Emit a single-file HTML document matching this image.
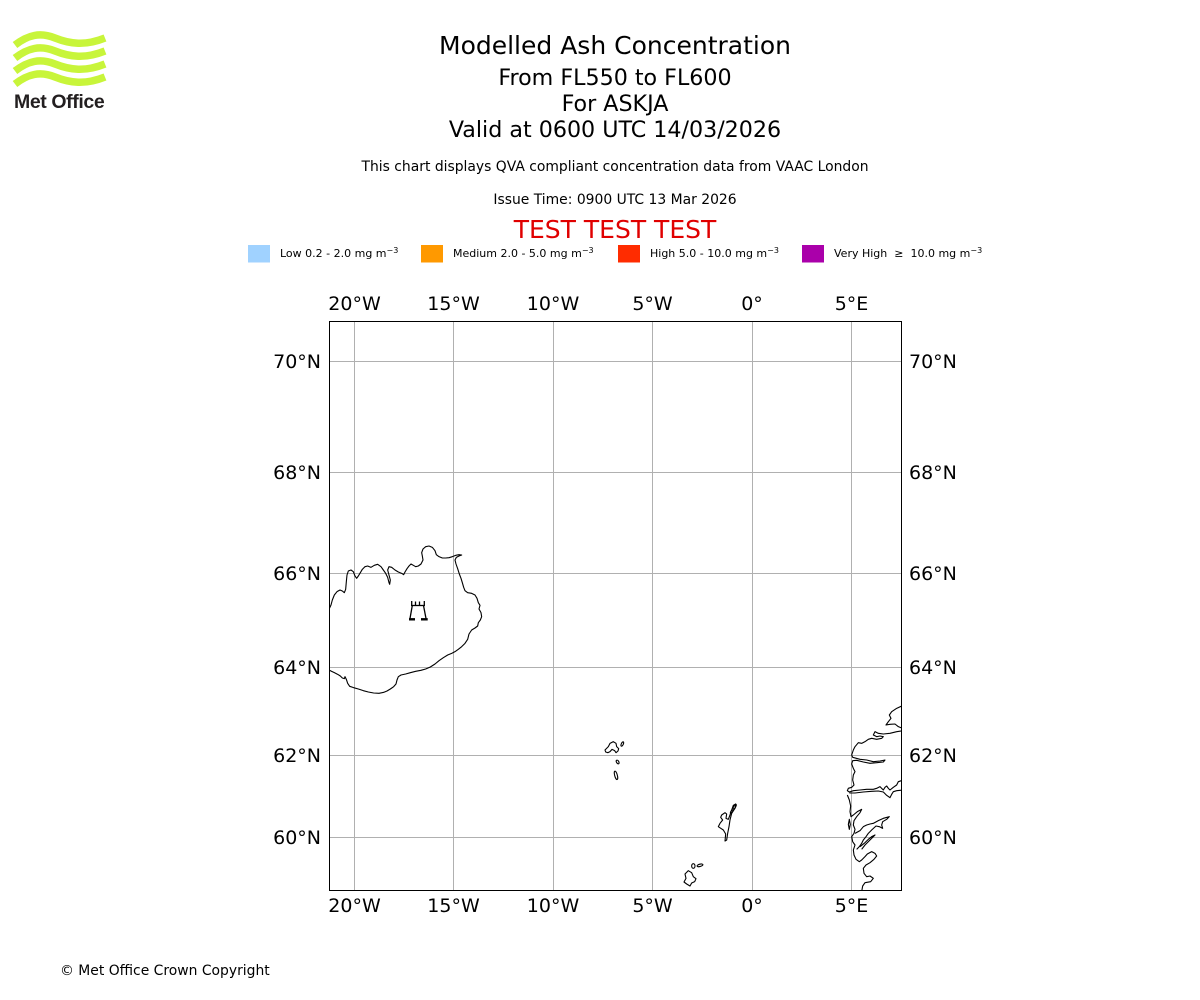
<!DOCTYPE html>
<html>
<head>
<meta charset="utf-8">
<style>
html,body{margin:0;padding:0;background:#fff;}
svg{display:block;}
text{font-family:"DejaVu Sans","Liberation Sans",sans-serif;fill:#000;}
</style>
</head>
<body>
<svg width="1200" height="1000" viewBox="0 0 1200 1000" xmlns="http://www.w3.org/2000/svg">
<rect x="0" y="0" width="1200" height="1000" fill="#fff"/>

<!-- Met Office logo -->
<g fill="none" stroke="#c8f53a" stroke-width="7.5" stroke-linecap="butt">
  <path d="M15,45 C28,35 40,32 55,38 S85,46 105,38"/>
  <path d="M15,58 C28,48 40,45 55,51 S85,59 105,51"/>
  <path d="M15,71 C28,61 40,58 55,64 S85,72 105,64"/>
  <path d="M15,84 C28,74 40,71 55,77 S85,85 105,77"/>
</g>
<text x="14" y="108" style="font-family:'Liberation Sans',sans-serif;font-weight:bold;font-size:19.5px;fill:#231f20;letter-spacing:-0.4px">Met Office</text>

<!-- Titles -->
<text x="615" y="54" text-anchor="middle" font-size="25">Modelled Ash Concentration</text>
<text x="615" y="85" text-anchor="middle" font-size="22.2">From FL550 to FL600</text>
<text x="615" y="111" text-anchor="middle" font-size="22.2">For ASKJA</text>
<text x="615" y="137" text-anchor="middle" font-size="22.2">Valid at 0600 UTC 14/03/2026</text>
<text x="615" y="171" text-anchor="middle" font-size="13.9">This chart displays QVA compliant concentration data from VAAC London</text>
<text x="615" y="204" text-anchor="middle" font-size="13.9">Issue Time: 0900 UTC 13 Mar 2026</text>
<text x="615" y="238" text-anchor="middle" font-size="25" style="fill:#e00000">TEST TEST TEST</text>

<!-- Legend -->
<rect x="248" y="245" width="22" height="17.5" fill="#a0d2ff"/>
<text x="280" y="257" font-size="11">Low 0.2 - 2.0 mg m<tspan font-size="8" dy="-4">−3</tspan></text>
<rect x="421" y="245" width="22" height="17.5" fill="#ff9900"/>
<text x="453" y="257" font-size="11">Medium 2.0 - 5.0 mg m<tspan font-size="8" dy="-4">−3</tspan></text>
<rect x="618" y="245" width="22" height="17.5" fill="#ff2c00"/>
<text x="650" y="257" font-size="11">High 5.0 - 10.0 mg m<tspan font-size="8" dy="-4">−3</tspan></text>
<rect x="802" y="245" width="22" height="17.5" fill="#aa00aa"/>
<text x="834" y="257" font-size="11">Very High&#160; ≥&#160; 10.0 mg m<tspan font-size="8" dy="-4">−3</tspan></text>

<defs>
  <clipPath id="mapclip"><rect x="329.5" y="321.5" width="572" height="569"/></clipPath>
</defs>

<!-- Gridlines -->
<g stroke="#b0b0b0" stroke-width="1">
  <line x1="354.5" y1="321.5" x2="354.5" y2="890.5"/>
  <line x1="453.5" y1="321.5" x2="453.5" y2="890.5"/>
  <line x1="553.5" y1="321.5" x2="553.5" y2="890.5"/>
  <line x1="652.5" y1="321.5" x2="652.5" y2="890.5"/>
  <line x1="752.5" y1="321.5" x2="752.5" y2="890.5"/>
  <line x1="851.5" y1="321.5" x2="851.5" y2="890.5"/>
  <line x1="329.5" y1="361.5" x2="901.5" y2="361.5"/>
  <line x1="329.5" y1="472.5" x2="901.5" y2="472.5"/>
  <line x1="329.5" y1="573.5" x2="901.5" y2="573.5"/>
  <line x1="329.5" y1="667.5" x2="901.5" y2="667.5"/>
  <line x1="329.5" y1="755.5" x2="901.5" y2="755.5"/>
  <line x1="329.5" y1="837.5" x2="901.5" y2="837.5"/>
</g>

<!-- Coastlines -->
<g clip-path="url(#mapclip)" fill="none" stroke="#000" stroke-width="1.1" stroke-linejoin="round">
  <!-- Iceland -->
  <g transform="translate(325 540) scale(0.33333)">
    <path vector-effect="non-scaling-stroke" d="M12,208 L18,195 22,180 28,165 36,155 45,150 52,153 58,158 62,148 64,125 66,105 70,93 78,90 85,95 90,108 95,115 100,108 106,98 112,88 120,80 128,78 138,82 148,76 158,73 168,80 175,90 182,100 188,112 192,128 194,133 196,120 192,105 188,90 192,80 200,82 210,90 220,96 230,100 236,104 240,96 246,86 252,78 258,72 265,76 272,80 280,78 288,72 294,60 292,48 290,38 294,27 302,20 312,18 322,22 330,32 334,44 342,50 352,54 362,54 372,53 382,50 392,46 402,44 410,45 402,48 394,52 390,60 393,72 398,86 403,102 408,115 412,128 416,142 420,152 428,158 440,160 450,165 456,175 460,188 465,196 462,207 468,218 470,230 466,240 460,248 458,258 450,264 440,270 432,282 428,298 420,310 410,320 400,328 390,335 380,340 368,345 355,353 342,362 330,372 316,381 302,387 288,391 272,394 256,398 242,402 228,405 220,410 216,420 213,432 206,440 196,447 186,453 176,457 162,460 146,459 130,456 115,452 100,447 86,443 74,439 68,430 64,418 60,410 58,416 52,414 46,408 38,403 28,398 20,394 12,390"/>
  </g>
  <!-- Faroes -->
  <g transform="translate(590 730) scale(0.33333)">
    <path vector-effect="non-scaling-stroke" d="M45,60 L55,50 60,40 70,35 78,40 80,50 86,56 84,63 78,68 74,62 66,58 60,65 54,68 47,66 Z"/>
    <ellipse vector-effect="non-scaling-stroke" cx="97" cy="42" rx="3" ry="7" transform="rotate(25 97 42)"/>
    <ellipse vector-effect="non-scaling-stroke" cx="83" cy="96" rx="3.5" ry="6" transform="rotate(-30 83 96)"/>
    <ellipse vector-effect="non-scaling-stroke" cx="78" cy="136" rx="4" ry="13" transform="rotate(-15 78 136)"/>
    <!-- Shetland -->
    <path vector-effect="non-scaling-stroke" d="M395,255 L405,248 410,252 408,265 415,268 420,255 425,240 430,226 437,222 435,235 425,250 420,270 417,290 413,310 410,330 405,333 407,312 400,300 394,296 385,290 390,280 398,270 392,262 Z"/>
    <ellipse vector-effect="non-scaling-stroke" cx="434" cy="230" rx="3" ry="8" transform="rotate(30 434 230)"/>
    <ellipse vector-effect="non-scaling-stroke" cx="425" cy="245" rx="2.5" ry="6" transform="rotate(30 425 245)"/>
    <!-- Orkney -->
    <path vector-effect="non-scaling-stroke" d="M285,432 L295,422 305,428 310,440 318,446 314,455 305,459 300,468 290,462 282,456 288,445 Z"/>
    <ellipse vector-effect="non-scaling-stroke" cx="310" cy="408" rx="5" ry="7"/>
    <ellipse vector-effect="non-scaling-stroke" cx="330" cy="406" rx="9" ry="3.5" transform="rotate(-15 330 406)"/>
  </g>
  <!-- Norway upper -->
  <g transform="translate(840 700) scale(0.33333)">
    <path vector-effect="non-scaling-stroke" d="M190,16 L170,25 155,35 148,45 153,55 145,65 138,75 150,73 165,72 175,80 190,86"/>
    <path vector-effect="non-scaling-stroke" d="M190,92 L170,95 150,100 130,102 115,100 105,95 100,105 110,110 120,108 130,110 125,115 110,118 95,115 85,118 75,125 65,130 55,128 45,140 40,150 35,165 38,172 60,178 80,180 100,185 120,183 135,180 130,186 110,188 90,190 70,186 50,181 38,182 35,192 40,205 45,215 40,225 38,240 42,255 35,262 25,265 22,272 28,276 40,272 60,270 80,268 100,268 110,265 120,260 125,265 130,270 135,262 140,258 145,265 150,270 160,262 170,255 175,245 190,240"/>
    <path vector-effect="non-scaling-stroke" d="M28,279 L45,279 70,276 95,274 115,273 130,276 140,286 150,293 155,283 160,275 170,272 190,270"/>
  </g>
  <!-- Norway lower -->
  <g transform="translate(830 700) scale(0.33333)">
    <path vector-effect="non-scaling-stroke" d="M52,285 L58,300 62,318 60,335 63,350 70,345 82,335 95,328 90,338 80,350 72,362 70,375 75,388 72,400 65,410 68,425 75,435 70,450 72,465 78,478 88,485 95,480 105,470 112,462 125,455 135,460 140,468 132,478 120,488 108,495 100,505 102,520 110,530 120,528 130,535 122,545 105,548 98,558 95,575"/>
    <path vector-effect="non-scaling-stroke" d="M75,400 L90,392 100,380 110,375 120,372 130,370 145,362 160,355 178,350 170,358 158,365 155,375 158,385 148,380 138,378 125,390 115,400 108,410 100,420 95,430 88,440 80,448"/>
    <path vector-effect="non-scaling-stroke" d="M90,440 L105,428 115,418 125,410 135,405 120,420 105,435 95,448"/>
    <path vector-effect="non-scaling-stroke" d="M58,358 L61,373 58,388 55,373 Z"/>
  </g>
</g>

<!-- Volcano symbol -->
<g stroke="#000" fill="none" stroke-width="1.3">
  <line x1="411.7" y1="601" x2="411.7" y2="605.5"/>
  <line x1="415.5" y1="601.5" x2="415.5" y2="605.5"/>
  <line x1="419.5" y1="601.5" x2="419.5" y2="605.5"/>
  <line x1="424.3" y1="601" x2="424.3" y2="605.5"/>
  <line x1="411" y1="605.5" x2="425" y2="605.5"/>
  <line x1="412.3" y1="605.5" x2="410" y2="618.5"/>
  <line x1="423.5" y1="605.5" x2="426" y2="618.5"/>
  <line x1="409" y1="619.3" x2="415" y2="619.3" stroke-width="2.4"/>
  <line x1="421" y1="619.3" x2="427.7" y2="619.3" stroke-width="2.4"/>
</g>

<!-- Frame -->
<rect x="329.5" y="321.5" width="572" height="569" fill="none" stroke="#000" stroke-width="1"/>

<!-- Tick labels top -->
<g font-size="19" text-anchor="middle">
  <text x="354.5" y="310">20°W</text>
  <text x="453.5" y="310">15°W</text>
  <text x="553" y="310">10°W</text>
  <text x="652.5" y="310">5°W</text>
  <text x="752" y="310">0°</text>
  <text x="851.5" y="310">5°E</text>
</g>
<!-- Tick labels bottom -->
<g font-size="19" text-anchor="middle">
  <text x="354.5" y="912">20°W</text>
  <text x="453.5" y="912">15°W</text>
  <text x="553" y="912">10°W</text>
  <text x="652.5" y="912">5°W</text>
  <text x="752" y="912">0°</text>
  <text x="851.5" y="912">5°E</text>
</g>
<!-- Tick labels left -->
<g font-size="19" text-anchor="end">
  <text x="321" y="368">70°N</text>
  <text x="321" y="479">68°N</text>
  <text x="321" y="580">66°N</text>
  <text x="321" y="674">64°N</text>
  <text x="321" y="762">62°N</text>
  <text x="321" y="844">60°N</text>
</g>
<!-- Tick labels right -->
<g font-size="19" text-anchor="start">
  <text x="909" y="368">70°N</text>
  <text x="909" y="479">68°N</text>
  <text x="909" y="580">66°N</text>
  <text x="909" y="674">64°N</text>
  <text x="909" y="762">62°N</text>
  <text x="909" y="844">60°N</text>
</g>

<text x="60" y="975" font-size="13.9">© Met Office Crown Copyright</text>
</svg>
</body>
</html>
